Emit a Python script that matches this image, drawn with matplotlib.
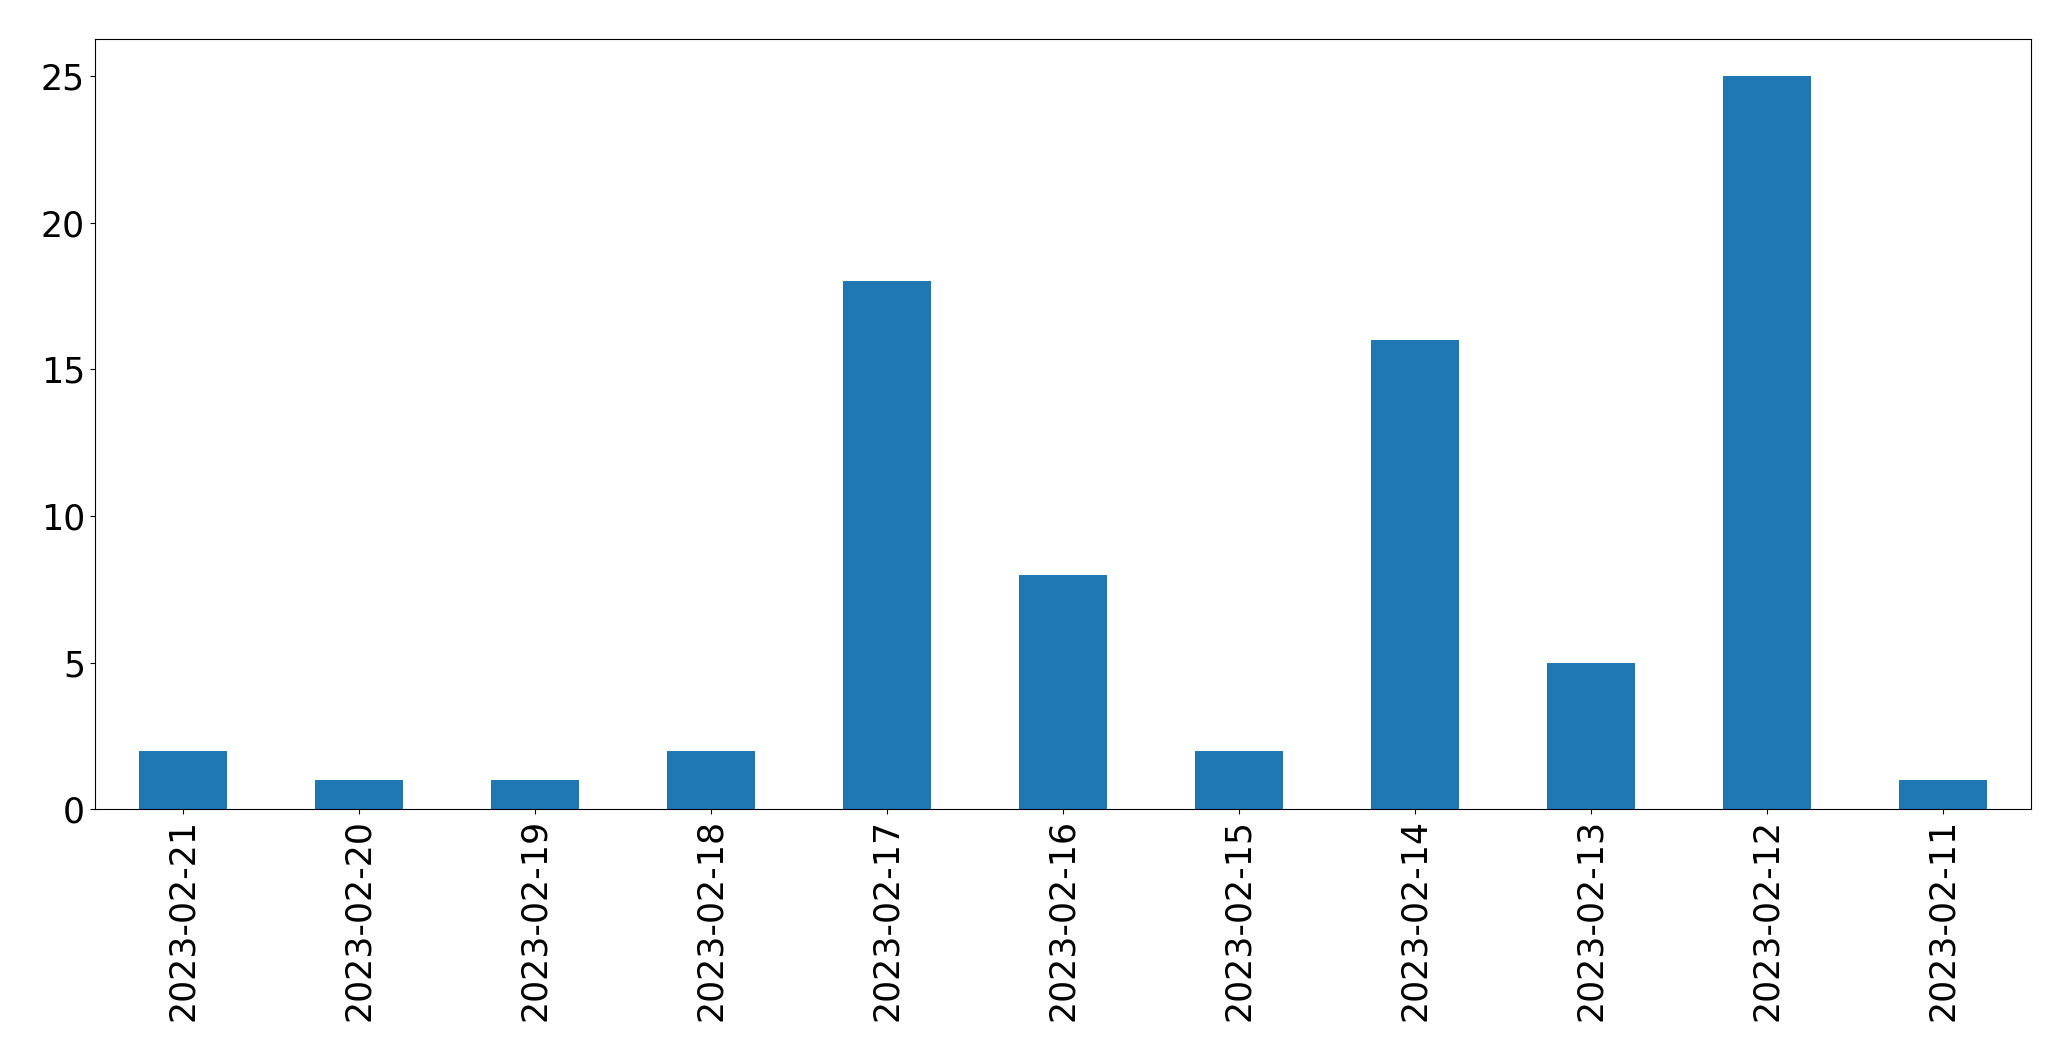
import matplotlib
matplotlib.use("Agg")
import matplotlib.pyplot as plt

dates = ["2023-02-21", "2023-02-20", "2023-02-19", "2023-02-18", "2023-02-17",
         "2023-02-16", "2023-02-15", "2023-02-14", "2023-02-13", "2023-02-12",
         "2023-02-11"]
counts = [2, 1, 1, 2, 18, 8, 2, 16, 5, 25, 1]

fig = plt.figure(figsize=(20.71, 10.61), dpi=100)
ax = fig.add_axes([0.0457, 0.2372, 0.9807 - 0.0457, 0.963 - 0.2372])
x = list(range(len(dates)))
ax.bar(x, counts, width=0.5, color="#1f77b4")
ax.set_xlim(-0.5, len(dates) - 0.5)
ax.set_ylim(0, 26.25)
ax.set_xticks(x)
ax.set_xticklabels(dates, rotation=90)
ax.set_yticks([0, 5, 10, 15, 20, 25])
ax.tick_params(labelsize=25)
fig.savefig("out.png", dpi=100)
